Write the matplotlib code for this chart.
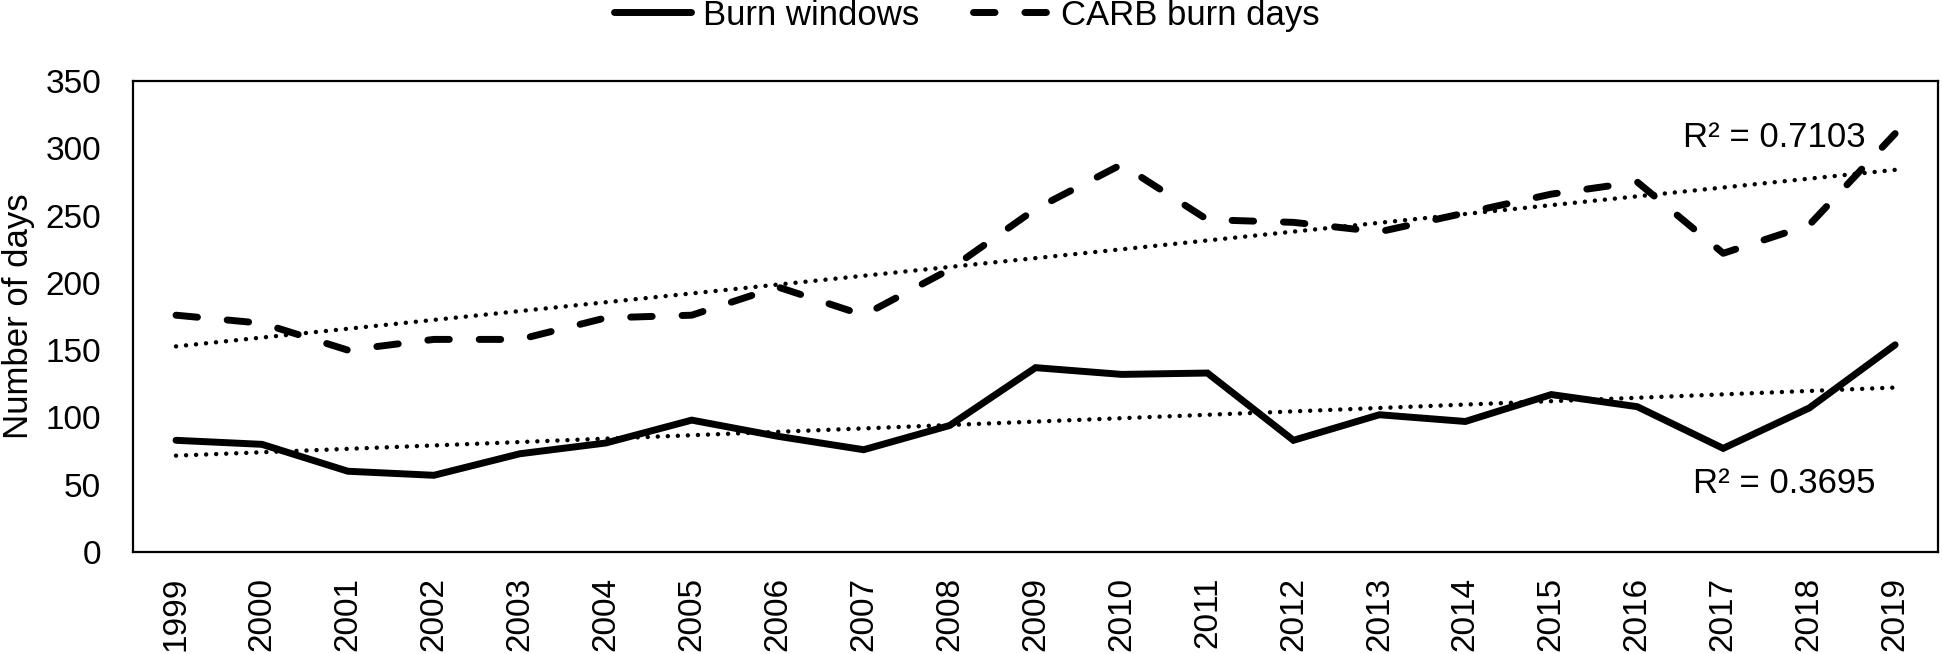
import numpy as np
import matplotlib
matplotlib.use("Agg")
import matplotlib.pyplot as plt

years = ["1999", "2000", "2001", "2002", "2003", "2004", "2005", "2006", "2007", "2008",
         "2009", "2010", "2011", "2012", "2013", "2014", "2015", "2016", "2017", "2018", "2019"]
burn_windows = [83, 80, 60, 57, 73, 81, 98, 86, 76, 94,
                137, 132, 133, 83, 102, 97, 117, 108, 77, 107, 154]
carb_burn_days = [176, 170, 150, 158, 158, 174, 176, 197, 176, 210,
                  255, 288, 247, 245, 238, 252, 266, 275, 222, 243, 311]
r2_labels = ["R\u00b2 = 0.3695", "R\u00b2 = 0.7103"]

plt.rcParams["font.family"] = ["Liberation Sans", "DejaVu Sans"]

fig = plt.figure(figsize=(19.42, 6.54), dpi=100)
ax = fig.add_axes([0.0685, 0.156, 0.9295, 0.720])

x = np.arange(len(years))
lw = 5.0
ax.plot(x, burn_windows, color="black", lw=lw, solid_joinstyle="miter",
        solid_capstyle="round", label="Burn windows")
ax.plot(x, carb_burn_days, color="black", lw=lw, linestyle=(0, (3.1, 4.3)),
        dash_capstyle="round", label="CARB burn days")

for s in (burn_windows, carb_burn_days):
    coef = np.polyfit(x, s, 1)
    ax.plot(x, np.polyval(coef, x), color="black", lw=3.2, linestyle=(0, (0.01, 2.25)),
            dash_capstyle="round")

ax.text(18.71, 51, r2_labels[0], fontsize=25, ha="center", va="center")
ax.text(18.59, 308, r2_labels[1], fontsize=25, ha="center", va="center")

ax.set_xlim(-0.5, len(years) - 0.5)
ax.set_ylim(0, 350)
ax.set_yticks(range(0, 351, 50))
ax.set_xticks(x)
ax.set_xticklabels(years, rotation=90)
ax.tick_params(axis="both", length=0, labelsize=24)
ax.tick_params(axis="y", pad=23)
ax.tick_params(axis="x", pad=18)
for sp in ax.spines.values():
    sp.set_linewidth(1.6)

fig.text(0.001, 0.516, "Number of days", fontsize=25, rotation=90,
         ha="left", va="center")

handles, labels = ax.get_legend_handles_labels()
fig.legend(handles, labels, loc="center", bbox_to_anchor=(0.498, 0.977), ncol=2,
           frameon=False, fontsize=25, handlelength=2.2, handletextpad=0.35,
           columnspacing=1.55, borderaxespad=0, borderpad=0)

fig.savefig("out.png", dpi=100, facecolor="white")
